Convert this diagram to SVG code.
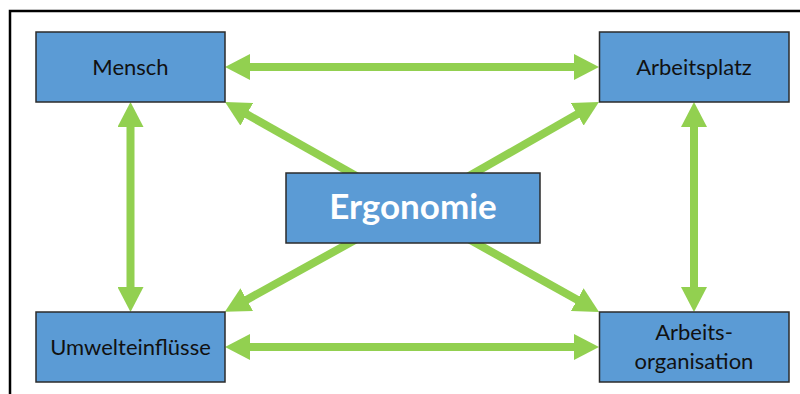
<svg xmlns="http://www.w3.org/2000/svg" width="800" height="394" viewBox="0 0 800 394">
  <defs>
    <style>
      .box { fill: #5B9BD5; stroke: #2B2B2B; stroke-width: 1.5; }
      .lbl { font-family: Lato, "Liberation Sans", sans-serif; font-size: 22px; fill: #111; text-anchor: middle; }
      .main { font-family: Lato, "Liberation Sans", sans-serif; font-size: 35px; font-weight: bold; fill: #fff; text-anchor: middle; }
      .conn { stroke: #92D050; stroke-width: 8; fill: none; }
      .frame { stroke: #000; stroke-width: 2.5; fill: none; }
    </style>
    <marker id="head" viewBox="0 0 25 26" markerUnits="userSpaceOnUse" markerWidth="25" markerHeight="26" refX="1" refY="13" orient="auto-start-reverse">
      <path d="M0,0 L25,13 L0,26 z" fill="#92D050"/>
    </marker>
  </defs>
  <rect width="800" height="394" fill="#fff"/>
  <path class="frame" d="M10,394 V11 H800"/>
  <g id="connectors">
    <line class="conn" x1="249" y1="67" x2="575" y2="67" marker-start="url(#head)" marker-end="url(#head)"/>
    <line class="conn" x1="249" y1="347" x2="575" y2="347" marker-start="url(#head)" marker-end="url(#head)"/>
    <line class="conn" x1="130.5" y1="126" x2="130.5" y2="288" marker-start="url(#head)" marker-end="url(#head)"/>
    <line class="conn" x1="694" y1="126" x2="694" y2="288" marker-start="url(#head)" marker-end="url(#head)"/>
    <line class="conn" x1="413" y1="208" x2="245.9" y2="113.8" marker-end="url(#head)"/>
    <line class="conn" x1="413" y1="208" x2="578.1" y2="113.8" marker-end="url(#head)"/>
    <line class="conn" x1="413" y1="208" x2="245.9" y2="300.2" marker-end="url(#head)"/>
    <line class="conn" x1="413" y1="208" x2="578.1" y2="300.2" marker-end="url(#head)"/>
  </g>
  <g id="mensch">
    <rect class="box" x="36" y="32" width="189" height="70"/>
    <text class="lbl" x="130.5" y="74.5">Mensch</text>
  </g>
  <g id="arbeitsplatz">
    <rect class="box" x="599.5" y="32" width="189.5" height="70"/>
    <text class="lbl" x="694" y="74.5">Arbeitsplatz</text>
  </g>
  <g id="umwelteinfluesse">
    <rect class="box" x="36" y="312" width="189" height="70"/>
    <text class="lbl" x="130.5" y="354.5">Umwelteinflüsse</text>
  </g>
  <g id="arbeitsorganisation">
    <rect class="box" x="599.5" y="312" width="189.5" height="70"/>
    <text class="lbl" x="694" y="339.5">Arbeits-</text>
    <text class="lbl" x="694" y="368.5">organisation</text>
  </g>
  <g id="ergonomie">
    <rect class="box" x="286" y="173" width="254" height="70"/>
    <text class="main" x="413" y="218.5">Ergonomie</text>
  </g>
</svg>
